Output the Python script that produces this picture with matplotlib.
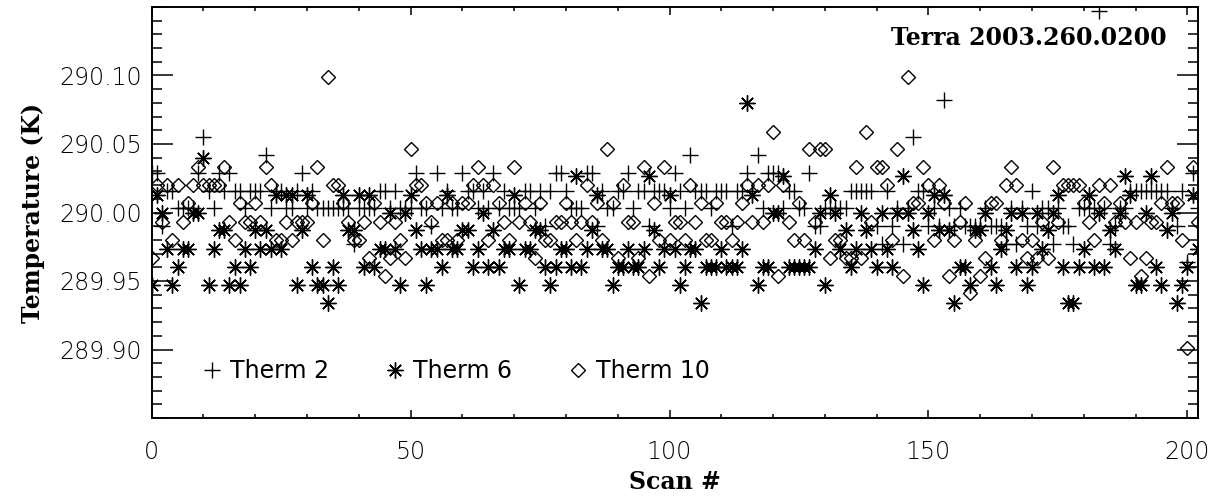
import numpy as np
import matplotlib
matplotlib.use('Agg')
import matplotlib.pyplot as plt
from matplotlib.ticker import MultipleLocator, FormatStrFormatter

# Scan number
scan = np.arange(203)

# Thermistor readings, offset from 290 K in mK
therm2_mk = [
    29, 29, -10, 16, 16, 3, 3, 3, 3, 29, 55, 16, 3, 29, 16, 29, 16, 16, 3, 16, 16, 16,
    42, 3, 16, 16, 3, 3, 16, 29, 3, 16, 3, 3, 3, 3, 3, 3, 3, -23, 3, 3, 3, 3, 16,
    16, 3, 16, 3, 3, 3, 29, 3, 3, -10, 29, 3, 16, 3, 3, 29, 16, 16, 3, 16, 3, 29,
    3, 16, 3, 3, 3, 16, 16, 3, 16, -10, 16, 29, 29, 16, 3, 3, 3, 29, 29, -10, 16, 3,
    3, 16, 16, 29, 3, 16, 16, -10, 16, 16, 16, 3, 29, 16, 3, 42, 16, 16, 16, 3, 16, 16,
    16, -10, 16, 16, 29, 16, 42, 3, 29, 29, 29, 3, 16, 16, 3, 3, 29, -10, -10, 3, 3, 3,
    3, 3, 16, 16, 16, 16, 16, -10, -23, 16, -10, 3, -23, 3, 55, 16, 16, -10, 3, -10, 82, 3, -10,
    3, -10, -10, -10, -10, 3, -10, -10, -10, -23, 3, -23, 3, -10, 16, -10, 3, 3, -23, 3, -10, -10,
    -23, 3, 3, 3, 3, 147, 3, -23, -10, 3, 3, 16, 16, 16, 16, 16, 16, 16, 16, 3, -10, 16, -36, 29, 3,
]
therm6_mk = [
    -53, 13, 0, -27, -53, -40, -27, -27, 0, 0, 40, -53, -27, -13, -13, -53, -40, -53, -27, -40, -13, -27,
    -13, -27, 13, -27, 13, 13, -53, -13, 13, -40, -53, -53, -66, -40, -53, 13, -13, -13, 13, -40, 13, -40, -27,
    -27, 0, -27, -53, 0, 13, -13, -27, -53, -27, -27, -40, 13, -27, -27, -13, -13, -40, -27, 0, -40, -13,
    -40, -27, -27, 13, -53, -27, -27, -13, -13, -40, -53, -40, -27, -27, -40, 27, -40, -27, -13, 13, -27, -27,
    -53, -40, -40, -27, -40, -40, -27, 27, -13, -40, -27, 13, -27, -53, -40, -27, -27, -66, -40, -40, -40, -27,
    -40, -40, -40, -27, 80, 13, -53, -40, -40, 0, 0, 27, -40, -40, -40, -40, -40, -27, 0, -53, 13, 0,
    -27, -13, -40, -27, 0, -13, -27, -40, 0, -27, -40, 0, 27, 0, -13, -27, -53, 0, 13, -13, 13, -13, -66,
    -40, -40, -53, -13, -13, 0, -40, -53, -27, -13, 0, -40, 0, -53, -40, 0, -27, -13, 0, 13, -40, -66,
    -66, -40, -27, 13, -40, 0, -40, -13, -27, 0, 27, 13, -53, -53, 0, 27, -40, -53, -13, 0, -66, -53, -40, 13, -27,
]
therm10_mk = [
    -33, 20, -7, 20, -20, 20, -7, 7, 20, 33, 20, 20, 20, 20, 33, -7, -20, 7, -7, -7, 7, -7,
    33, 20, -20, -20, -7, -20, -7, -7, -7, 7, 33, -20, 99, 20, 20, 7, -7, -20, -20, -7, -33, 7, -7,
    -46, -33, -7, -20, -33, 46, 20, 20, 7, -7, 7, -20, -20, 7, -20, 7, 7, 20, 33, 20, -20, 20,
    7, -7, -20, 33, -7, 7, -7, -33, 7, -20, -20, -7, -7, 7, -7, -20, -7, 20, -7, 7, -20, 46,
    7, -33, 20, -7, -7, -33, 33, -46, 7, -20, 33, -20, -7, -7, -20, 20, -7, 7, -20, -20, 7, -7,
    -7, -20, -7, 7, 20, -7, 20, -7, 20, 59, -46, 20, -7, -20, 7, -20, 46, -7, 46, 46, -33, -20,
    -20, -33, -33, 33, -33, 59, -7, 33, 33, 20, -20, 46, -46, 99, 7, 7, 33, 20, -20, 20, 7, -46, -20,
    -7, 7, -59, -20, -46, -33, 7, 7, -20, 20, 33, 20, -20, -33, -20, -33, -7, -33, 33, -7, 20, 20,
    20, 20, 7, -7, -20, 20, 7, 20, -7, 7, -7, -33, -7, -46, -33, -7, -7, 7, 33, 7, 7, -20, -99, 33, -7,
]

base_k = 290.0
therm2 = base_k + np.array(therm2_mk) / 1000.0
therm6 = base_k + np.array(therm6_mk) / 1000.0
therm10 = base_k + np.array(therm10_mk) / 1000.0

W, H = 1221, 500
fig = plt.figure(figsize=(W / 100, H / 100), dpi=100)
ax = fig.add_axes([151.7 / W, 1 - 418 / H, (1197.7 - 151.7) / W, (418 - 7) / H])

mk = dict(linestyle='none', color='black', markerfacecolor='none', markeredgewidth=1.0)
ax.plot(scan, therm2, marker='+', markersize=11.5, label='Therm 2', **mk)
ax.plot(scan, therm6, marker=(8, 2, 0), markersize=11.5, label='Therm 6', **mk)
ax.plot(scan, therm10, marker='D', markersize=6.8, label='Therm 10', **mk)

ax.set_xlim(0, 202)
ax.set_ylim(289.85, 290.15)

ax.xaxis.set_major_locator(MultipleLocator(50))
ax.xaxis.set_minor_locator(MultipleLocator(10))
ax.yaxis.set_major_locator(plt.FixedLocator([289.90, 289.95, 290.00, 290.05, 290.10]))
ax.yaxis.set_minor_locator(MultipleLocator(0.01))
ax.yaxis.set_major_formatter(FormatStrFormatter('%.2f'))

for side in ax.spines.values():
    side.set_linewidth(1.4)

ax.tick_params(axis='both', which='both', direction='in', top=True, right=True, color='black')
ax.tick_params(axis='y', which='major', length=15, width=1.1, pad=7, labelsize=17)
ax.tick_params(axis='y', which='minor', length=7.5, width=1.1)
ax.tick_params(axis='x', which='major', length=6, width=1.1, pad=16, labelsize=17)
ax.tick_params(axis='x', which='minor', length=3, width=1.1)
for lab in ax.get_xticklabels() + ax.get_yticklabels():
    lab.set_family('DejaVu Sans')
    lab.set_fontweight('light')

ax.set_xlabel('Scan #', family='DejaVu Serif', fontweight='bold', fontsize=17, labelpad=4)
ax.set_ylabel('Temperature (K)', family='DejaVu Serif', fontweight='bold', fontsize=17, labelpad=10)

ax.text(0.9704, 0.9246, 'Terra 2003.260.0200', transform=ax.transAxes, ha='right', va='center',
        family='DejaVu Serif', fontweight='bold', fontsize=17)

leg = ax.legend(loc='center left', bbox_to_anchor=(0.049, 0.114), ncol=3, frameon=False,
                prop={'family': 'DejaVu Sans', 'size': 17}, handlelength=0.8, handletextpad=0.35,
                columnspacing=2.4, borderpad=0, borderaxespad=0, numpoints=1)

fig.savefig('out.png', dpi=100)
